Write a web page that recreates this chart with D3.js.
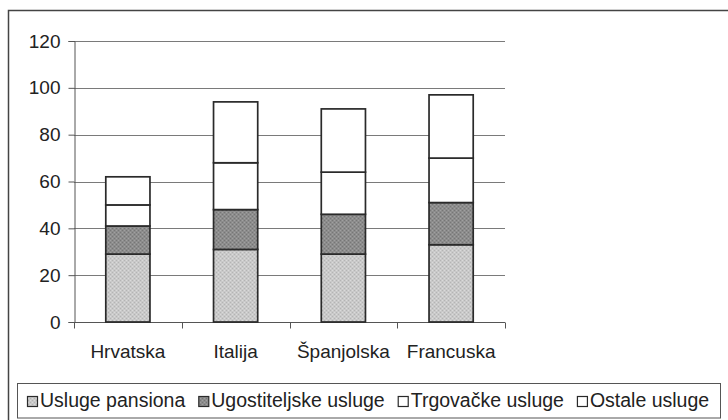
<!DOCTYPE html>
<html>
<head>
<meta charset="utf-8">
<script src="https://cdn.jsdelivr.net/npm/d3@7"></script>
<style>
  html, body { margin: 0; padding: 0; background: #fff; }
  svg { display: block; }
  text { font-family: "Liberation Sans", Arial, sans-serif; fill: #222; }
</style>
</head>
<body>
<svg id="chart" width="728" height="420"></svg>
<script>
// ---- data ----
const categories = ["Hrvatska", "Italija", "Španjolska", "Francuska"];
const seriesNames = ["Usluge pansiona", "Ugostiteljske usluge", "Trgovačke usluge", "Ostale usluge"];
const uslugePansiona = [29, 31, 29, 33];
const ugostiteljskeUsluge = [12, 17, 17, 18];
const trgovackeUsluge = [9, 20, 18, 19];
const ostaleUsluge = [12, 26, 27, 27];
const yTicks = [0, 20, 40, 60, 80, 100, 120];

const seriesValues = [uslugePansiona, ugostiteljskeUsluge, trgovackeUsluge, ostaleUsluge];

const table = categories.map((c, i) => {
  const row = { cat: c };
  seriesNames.forEach((s, j) => row[s] = seriesValues[j][i]);
  return row;
});

const svg = d3.select("#chart");
const FONT = "Liberation Sans, Arial, sans-serif";

// textured fills (scanned halftone look)
const defs = svg.append("defs");
function texture(id, base, dark, light) {
  const p = defs.append("pattern").attr("id", id).attr("patternUnits", "userSpaceOnUse")
    .attr("width", 4).attr("height", 4);
  p.append("rect").attr("width", 4).attr("height", 4).attr("fill", base);
  [[0, 0], [2, 2]].forEach(([a, b]) => p.append("rect").attr("x", a).attr("y", b).attr("width", 1).attr("height", 1).attr("fill", dark));
  [[2, 0], [0, 2]].forEach(([a, b]) => p.append("rect").attr("x", a).attr("y", b).attr("width", 1).attr("height", 1).attr("fill", light));
}
texture("texLight", "#c9c9c9", "#b4b4b4", "#dadada");
texture("texDark", "#8c8c8c", "#767676", "#a0a0a0");
const fills = ["url(#texLight)", "url(#texDark)", "#ffffff", "#ffffff"];

// outer frame
svg.append("rect").attr("x", 8.5).attr("y", 10.5).attr("width", 760).attr("height", 460)
  .attr("fill", "none").attr("stroke", "#444").attr("stroke-width", 1.5);

const plot = { left: 74, right: 505, top: 41, bottom: 322 };

const x = d3.scaleBand().domain(categories).range([plot.left, plot.right]).paddingInner(0.59).paddingOuter(0.295);
const y = d3.scaleLinear().domain([0, 120]).range([plot.bottom, plot.top]);

// gridlines
svg.append("g").selectAll("line").data(yTicks.filter(t => t > 0)).join("line")
  .attr("x1", plot.left).attr("x2", plot.right)
  .attr("y1", d => Math.round(y(d)) + 0.5).attr("y2", d => Math.round(y(d)) + 0.5)
  .attr("stroke", "#7a7a7a").attr("stroke-width", 1);

// y axis
const yAxis = svg.append("g").attr("transform", `translate(${plot.left + 0.5},0)`)
  .call(d3.axisLeft(y).tickValues(yTicks).tickSize(6).tickPadding(8));
yAxis.select(".domain").attr("stroke", "#555");
yAxis.selectAll(".tick line").attr("stroke", "#555");
yAxis.selectAll(".tick text").style("font-size", "19px").style("font-family", FONT).attr("fill", "#222");

// x axis
const xAxis = svg.append("g").attr("transform", `translate(0,${plot.bottom + 0.5})`)
  .call(d3.axisBottom(x).tickSize(0).tickPadding(22));
xAxis.select(".domain").attr("d", `M${plot.left},0H${plot.right}`).attr("stroke", "#555");
xAxis.selectAll(".tick text").style("font-size", "19px").style("font-family", FONT).attr("fill", "#222");
// band boundary ticks
const bounds = d3.range(categories.length + 1).map(i => plot.left + i * (plot.right - plot.left) / categories.length);
xAxis.append("g").selectAll("line").data(bounds).join("line")
  .attr("x1", d => Math.round(d) + 0.5).attr("x2", d => Math.round(d) + 0.5)
  .attr("y1", 0).attr("y2", 6).attr("stroke", "#555");

// stacked bars
const stack = d3.stack().keys(seriesNames)(table);
svg.append("g").selectAll("g").data(stack).join("g")
  .attr("fill", (d, i) => fills[i])
  .selectAll("rect").data(d => d).join("rect")
  .attr("x", d => x(d.data.cat))
  .attr("width", x.bandwidth())
  .attr("y", d => y(d[1]))
  .attr("height", d => y(d[0]) - y(d[1]))
  .attr("stroke", "#2a2a2a").attr("stroke-width", 1.7);

// legend
const lg = svg.append("g");
lg.append("rect").attr("x", 17.5).attr("y", 383.5).attr("width", 703).attr("height", 34.5)
  .attr("fill", "none").attr("stroke", "#555").attr("stroke-width", 1);
let lx = 27;
seriesNames.forEach((s, i) => {
  lg.append("rect").attr("x", lx + 0.5).attr("y", 396.5).attr("width", 10).attr("height", 10)
    .attr("fill", fills[i]).attr("stroke", "#2a2a2a").attr("stroke-width", 1.2);
  const t = lg.append("text").attr("x", lx + 13).attr("y", 407)
    .style("font-size", "19.5px").style("font-family", FONT).text(s);
  lx = lx + 13 + t.node().getComputedTextLength() + 13;
});
</script>
</body>
</html>
